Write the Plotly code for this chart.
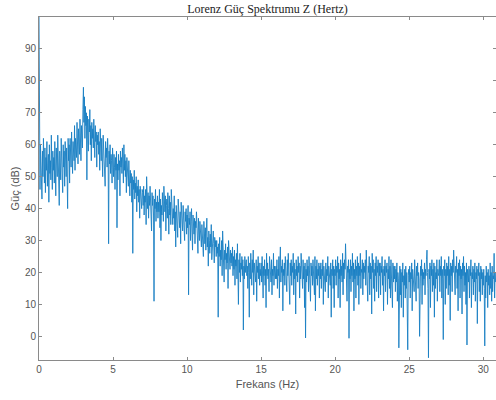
import plotly.graph_objects as go

# Frequency step of the sampled spectrum (Hz): 30 samples per Hz
freq_step = 1.0 / 30

# Power values (dB), one row per 1 Hz
power_db_rows = [
    [100, 57, 46, 60, 52, 55, 43, 58, 50, 62, 53, 48, 59, 45, 56, 52, 61, 47, 54, 57, 42, 60, 51, 55, 49, 63, 53, 46, 58, 52],
    [56, 48, 61, 53, 44, 59, 55, 50, 63, 52, 57, 41, 58, 54, 49, 62, 56, 51, 45, 60, 53, 58, 47, 61, 55, 50, 59, 53, 40, 62],
    [55, 60, 48, 62, 57, 53, 64, 58, 51, 61, 59, 55, 66, 52, 62, 60, 56, 67, 59, 54, 65, 61, 57, 68, 62, 55, 66, 63, 59, 71],
    [78, 67, 75, 62, 72, 66, 70, 49, 69, 63, 58, 68, 64, 71, 60, 66, 55, 67, 62, 65, 59, 68, 63, 56, 66, 61, 64, 53, 63, 60],
    [64, 57, 61, 52, 65, 59, 55, 62, 58, 50, 63, 57, 60, 54, 47, 61, 56, 59, 53, 62, 57, 29, 58, 54, 60, 51, 57, 55, 48, 59],
    [55, 50, 57, 53, 46, 56, 52, 58, 34, 54, 49, 57, 52, 55, 44, 58, 53, 56, 51, 59, 54, 48, 60, 52, 57, 50, 55, 45, 56, 51],
    [53, 47, 55, 50, 44, 52, 48, 51, 42, 50, 26, 49, 46, 52, 43, 48, 45, 50, 39, 47, 44, 49, 42, 46, 37, 47, 43, 45, 40, 46],
    [45, 41, 47, 38, 44, 42, 46, 35, 50, 43, 40, 45, 37, 44, 41, 47, 39, 43, 33, 45, 41, 44, 38, 11, 43, 40, 46, 36, 42, 39],
    [44, 37, 42, 39, 46, 34, 43, 30, 41, 38, 45, 40, 36, 47, 42, 39, 44, 33, 41, 43, 37, 45, 40, 32, 44, 38, 42, 35, 46, 40],
    [42, 35, 40, 37, 44, 33, 39, 28, 41, 36, 38, 31, 43, 37, 40, 34, 39, 29, 42, 36, 38, 33, 41, 37, 35, 30, 39, 36, 40, 32],
    [38, 34, 41, 13, 37, 35, 39, 30, 36, 40, 33, 27, 38, 35, 32, 37, 29, 36, 34, 39, 31, 35, 26, 37, 33, 30, 36, 32, 34, 28],
    [35, 30, 32, 25, 36, 31, 29, 34, 27, 33, 37, 28, 31, 22, 33, 30, 26, 32, 28, 35, 24, 30, 27, 33, 29, 23, 31, 28, 30, 25],
    [30, 26, 28, 6, 29, 25, 31, 22, 27, 24, 30, 19, 33, 26, 28, 17, 27, 24, 29, 21, 26, 23, 28, 15, 30, 24, 26, 21, 27, 23],
    [26, 22, 28, 19, 25, 21, 27, 16, 24, 22, 26, 18, 29, 23, 10, 24, 20, 26, 17, 23, 21, 25, 19, 24, 2, 22, 18, 25, 20, 23],
    [24, 19, 22, 15, 25, 20, 6, 23, 18, 26, 21, 16, 24, 20, 27, 13, 23, 19, 21, 17, 24, 11, 22, 20, 25, 18, 23, 16, 21, 19],
    [23, 17, 25, 20, 12, 22, 19, 24, 16, 21, 9, 26, 19, 23, 18, 21, 14, 25, 20, 22, 17, 24, 13, 21, 19, 26, 16, 22, 20, 18],
    [22, 18, 24, 15, 21, 19, 25, 12, 23, 28, 17, 22, 20, 24, 8, 21, 19, 23, 16, 25, 20, 22, 14, 24, 19, 26, 17, 21, 10, 23],
    [19, 24, 16, 22, 20, 26, 13, 23, 18, 21, 7, 24, 19, 22, 17, 25, 20, 23, 12, 22, 18, 26, 19, 21, 15, 24, 18, 22, 9, 23],
    [-0.5, 21, 17, 24, 19, 22, 14, 25, 18, 21, 11, 23, 19, 22, 16, 24, 20, 21, 13, 25, 8, 22, 18, 24, 16, 21, 19, 23, 12, 22],
    [18, 23, 15, 21, 19, 24, 10, 22, 18, 20, 14, 23, 17, 21, 19, 25, 12, 22, 18, 20, 16, 23, 6, 21, 19, 24, 15, 22, 9, 21],
    [19, 24, 16, 22, 20, 25, 12, 23, 18, 21, 9, 24, 19, 22, 17, 26, 13, 23, 18, 24, 21, 29, 17, 23, 11, 22, 20, 24, -0.6, 21],
    [18, 24, 14, 22, 19, 26, 17, 23, 8, 21, 18, 24, 12, 22, 19, 25, 16, 23, 10, 22, 19, 26, 15, 21, 20, 24, 13, 23, 18, 22],
    [20, 24, 16, 27, 19, 23, 11, 22, 20, 25, 13, 23, 18, 22, 7, 26, 20, 24, 15, 21, 11, 23, 19, 25, 14, 22, 20, 24, 12, 23],
    [19, 23, 13, 22, 20, 25, 16, 21, 8, 22, 19, 24, 14, 22, 20, 23, 10, 21, 18, 25, 15, 22, 12, 24, 18, 21, 9, 23, 17, 22],
    [18, 22, 14, 21, 17, 23, 11, 20, 18, -3.6, 19, 22, 13, 21, 9, 20, 17, 23, 6, 19, 16, 21, 12, 22, 15, 20, 10, -4.2, 19, 21],
    [17, 22, 12, 20, 18, 23, 8, 21, 17, 19, 14, 24, 18, 21, 11, 22, 19, 23, 15, 20, 18, 0, 13, 22, 19, 24, 10, 21, 16, 20],
    [18, 23, 13, 21, 19, 24, 27, 20, 15, -6.7, 21, 18, 23, 9, 22, 19, 24, 14, 21, 16, 23, 6, 22, 15, 20, 18, 24, 11, 21, 19],
    [20, 24, 14, 22, 19, 25, 12, 21, 18, -1, 22, 19, 24, 10, 21, 15, 23, 19, 22, 13, 25, 16, 21, 5, 23, 19, 22, 14, 24, 20],
    [27, 19, 23, 13, 22, 20, 25, 15, 21, 8, 23, 19, 24, 12, 22, 18, 21, 7, 23, 19, 25, 14, 22, 16, 20, 10, 23, -2.7, 21, 18],
    [17, 22, 12, 21, 19, 24, 9, 20, 18, 22, 13, 21, 17, 23, 11, 20, 18, 22, 4, 21, 19, 23, 14, 20, 11, 22, 18, 21, 13, 20],
    [16, 21, 15, -3, 19, 12, 22, 17, 20, 9, 21, 16, 19, 13, 23, 15, 20, 11, 22, 14, 19, 18, 26, 12, 20, 17],
]

x_ticks = [0, 5, 10, 15, 20, 25, 30]
y_ticks = [0, 10, 20, 30, 40, 50, 60, 70, 80, 90]
x_range = [0, 30.86]
y_range = [-7.4, 100]

power_db = [v for row in power_db_rows for v in row]
freqs = [i * freq_step for i in range(len(power_db))]

fig = go.Figure()
fig.add_trace(go.Scatter(
    x=freqs, y=power_db, mode="lines",
    line=dict(color="#0072BD", width=0.9),
    opacity=0.9,
    showlegend=False, hoverinfo="skip",
))

axis_common = dict(
    showline=True, linecolor="#8a8a8a", linewidth=1,
    mirror="ticks", ticks="inside", ticklen=3, tickcolor="#8a8a8a",
    showgrid=False, zeroline=False, automargin=False,
    tickfont=dict(family="Liberation Sans, Arial, sans-serif", size=10, color="#555555"),
)

fig.update_layout(
    width=496, height=400,
    margin=dict(l=39, r=0, t=17, b=40),
    paper_bgcolor="white", plot_bgcolor="white",
    title=dict(
        text="Lorenz Güç Spektrumu Z (Hertz)",
        font=dict(family="Liberation Serif, Times New Roman, serif", size=12, color="#222222"),
        x=0.5, xref="paper", xanchor="center",
        y=1 - 9 / 400, yref="container", yanchor="middle",
    ),
    xaxis=dict(
        range=x_range, tickvals=x_ticks, ticktext=[str(v) for v in x_ticks],
        title=dict(text="Frekans (Hz)", standoff=6,
                   font=dict(family="Liberation Sans, Arial, sans-serif", size=11, color="#555555")),
        **axis_common,
    ),
    yaxis=dict(
        range=y_range, tickvals=y_ticks, ticktext=[str(v) for v in y_ticks],
        title=dict(text="Güç (dB)", standoff=3,
                   font=dict(family="Liberation Sans, Arial, sans-serif", size=11, color="#555555")),
        **axis_common,
    ),
)

fig.write_html(
    "out.html",
    config={"displayModeBar": False},
    post_script="document.body.style.margin='0';document.body.style.padding='0';",
)
